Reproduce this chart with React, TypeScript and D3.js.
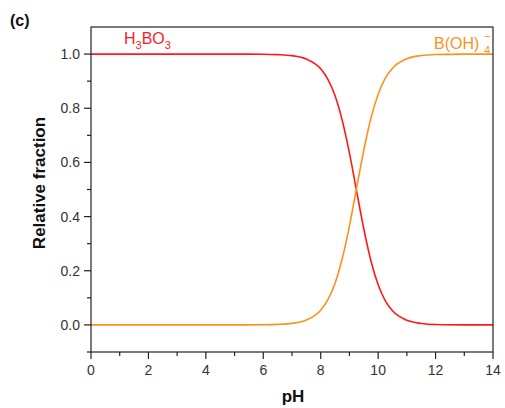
import React from "react";
import * as d3 from "d3";

const pH = [0, 1, 2, 3, 4, 5, 6, 6.5, 7, 7.5, 8, 8.25, 8.5, 8.75, 9, 9.25, 9.5, 9.75, 10, 10.25, 10.5, 11, 11.5, 12, 13, 14];
const h3bo3 = [1, 1, 1, 1, 1, 0.9999, 0.9994, 0.998, 0.9943, 0.982, 0.9456, 0.907, 0.846, 0.755, 0.635, 0.494, 0.355, 0.236, 0.148, 0.089, 0.052, 0.017, 0.0055, 0.0017, 0.0002, 0];
const boh4 = [0, 0, 0, 0, 0, 0.0001, 0.0006, 0.002, 0.0057, 0.018, 0.0544, 0.093, 0.154, 0.245, 0.365, 0.506, 0.645, 0.764, 0.852, 0.911, 0.948, 0.983, 0.9945, 0.9983, 0.9998, 1];
const xTicks = [0, 2, 4, 6, 8, 10, 12, 14];
const yTicks = [0, 0.2, 0.4, 0.6, 0.8, 1.0];

const W = 505, H = 408;
const L = 91, R = 493, T = 27, B = 352;
const RED = "#ff1a1a";
const ORANGE = "#ff9020";

export default function App() {
  const x = d3.scaleLinear().domain([0, 14]).range([L, R]);
  const y = d3.scaleLinear().domain([-0.1, 1.1]).range([B, T]);
  const line = d3.line<number>().x((_, i) => x(pH[i])).y(d => y(d)).curve(d3.curveMonotoneX);
  const xMinor = d3.range(1, 14, 2);
  const yMinor = [-0.1, 0.1, 0.3, 0.5, 0.7, 0.9];
  const font = "Liberation Sans, Arial, sans-serif";
  return (
    <svg width={W} height={H} style={{ position: "absolute", left: 0, top: 0, background: "#fff" }} fontFamily={font}>
      <rect x={0} y={0} width={W} height={H} fill="#fff" />
      <text x={10} y={26} fontSize={16} fontWeight="bold" fill="#111">(c)</text>
      <path d={line(h3bo3) || ""} fill="none" stroke={RED} strokeWidth={1.6} />
      <path d={line(boh4) || ""} fill="none" stroke={ORANGE} strokeWidth={1.6} />
      <rect x={L} y={T} width={R - L} height={B - T} fill="none" stroke="#222" strokeWidth={1.2} />
      {xTicks.map(t => (
        <g key={"x" + t}>
          <line x1={x(t)} x2={x(t)} y1={B} y2={B + 7} stroke="#222" strokeWidth={1.2} />
          <text x={x(t)} y={375} textAnchor="middle" fontSize={14} fill="#333">{t}</text>
        </g>
      ))}
      {xMinor.map(t => (
        <line key={"xm" + t} x1={x(t)} x2={x(t)} y1={B} y2={B + 4} stroke="#222" strokeWidth={1.2} />
      ))}
      {yTicks.map(t => (
        <g key={"y" + t}>
          <line x1={L - 7} x2={L} y1={y(t)} y2={y(t)} stroke="#222" strokeWidth={1.2} />
          <text x={L - 11} y={y(t) + 5} textAnchor="end" fontSize={14} fill="#333">{t.toFixed(1)}</text>
        </g>
      ))}
      {yMinor.map(t => (
        <line key={"ym" + t} x1={L - 4} x2={L} y1={y(t)} y2={y(t)} stroke="#222" strokeWidth={1.2} />
      ))}
      <text x={293} y={402} textAnchor="middle" fontSize={17} fontWeight="bold" fill="#111">pH</text>
      <text transform={`translate(45, 183) rotate(-90)`} textAnchor="middle" fontSize={17} fontWeight="bold" fill="#111">Relative fraction</text>
      <text x={124} y={44} fontSize={16} fill={RED}>
        H<tspan fontSize={11} dy={5}>3</tspan><tspan dy={-5}>BO</tspan><tspan fontSize={11} dy={5}>3</tspan>
      </text>
      <text x={434} y={49} fontSize={16} fill={ORANGE}>B(OH)</text>
      <text x={484} y={54} fontSize={11} fill={ORANGE}>4</text>
      <text x={484} y={40} fontSize={11} fill={ORANGE}>−</text>
    </svg>
  );
}
